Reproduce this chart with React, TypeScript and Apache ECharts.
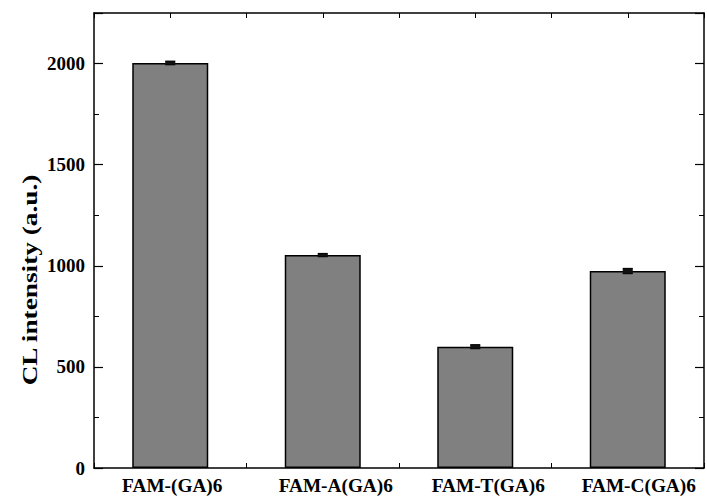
import React, { useEffect, useRef } from "react";
import * as echarts from "echarts";

const categories = ["FAM-(GA)6", "FAM-A(GA)6", "FAM-T(GA)6", "FAM-C(GA)6"];
const values = [2003, 1053, 600, 974];
const errors = [8, 7, 9, 12];
const yTitle = "CL intensity (a.u.)";

const FONT = "Liberation Serif";
const labelShift = [4, 26, 26, 22];

export default function App() {
  const ref = useRef<HTMLDivElement>(null);
  useEffect(() => {
    if (!ref.current) return;
    const chart = echarts.init(ref.current, undefined, { renderer: "svg" });
    const lineStyle = { color: "#000", width: 1.5 };
    const xCommon = {
      type: "value" as const,
      min: -0.5,
      max: 3.5,
      interval: 0.5,
      splitLine: { show: false },
      axisLine: { show: true, onZero: false, lineStyle },
      axisTick: { show: true, inside: true, length: 5, lineStyle: { color: "#000", width: 1 } },
    };
    const yCommon = {
      type: "value" as const,
      min: 0,
      max: 2250,
      interval: 500,
      splitLine: { show: false },
      axisLine: { show: true, onZero: false, lineStyle },
      axisTick: { show: true, inside: true, length: 9, lineStyle: { color: "#000", width: 1.2 } },
      minorTick: { show: true, splitNumber: 2, length: 5, lineStyle: { color: "#000", width: 1 } },
    };
    const rich: Record<string, any> = {};
    labelShift.forEach((p, i) => {
      rich["c" + i] = {
        fontFamily: FONT,
        fontWeight: "bold",
        fontSize: 19.3,
        color: "#000",
        padding: [0, 0, 0, p],
      };
    });
    chart.setOption({
      animation: false,
      backgroundColor: "#fff",
      grid: { left: 94, right: 1, top: 13, bottom: 33 },
      xAxis: [
        {
          ...xCommon,
          position: "bottom",
          axisLabel: {
            show: true,
            margin: 8,
            fontFamily: FONT,
            fontWeight: "bold",
            fontSize: 19.3,
            color: "#000",
            rich,
            formatter: (v: number) =>
              Number.isInteger(v) && v >= 0 && v < categories.length
                ? `{c${v}|${categories[v]}}`
                : "",
          },
        },
        {
          ...xCommon,
          position: "top",
          axisLabel: { show: false },
        },
      ],
      yAxis: [
        {
          ...yCommon,
          position: "left",
          axisLabel: {
            margin: 9,
            fontFamily: FONT,
            fontWeight: "bold",
            fontSize: 19,
            color: "#000",
            showMaxLabel: false,
            formatter: (v: number) => String(v),
          },
        },
        {
          ...yCommon,
          position: "right",
          axisLabel: { show: false },
        },
      ],
      graphic: [
        {
          type: "text",
          x: 30,
          y: 280,
          rotation: Math.PI / 2,
          scaleX: 1.3,
          style: {
            text: yTitle,
            font: `bold 21px ${FONT}`,
            fill: "#000",
            textAlign: "center",
            textVerticalAlign: "middle",
          },
        },
      ],
      series: [
        {
          type: "bar",
          xAxisIndex: 0,
          yAxisIndex: 0,
          barWidth: 76,
          data: values.map((v, i) => [i, v]),
          itemStyle: { color: "#808080", borderColor: "#000", borderWidth: 1.5 },
        },
        {
          type: "custom",
          xAxisIndex: 0,
          yAxisIndex: 0,
          data: values.map((v, i) => [i, v, errors[i]]),
          z: 10,
          renderItem: (params: any, api: any) => {
            const x = api.value(0);
            const v = api.value(1);
            const e = api.value(2);
            const top = api.coord([x, v + e]);
            const bot = api.coord([x, v - e]);
            const hw = 5;
            const style = { stroke: "#000", lineWidth: 1.5 };
            return {
              type: "group",
              children: [
                { type: "line", shape: { x1: top[0], y1: top[1], x2: bot[0], y2: bot[1] }, style },
                { type: "line", shape: { x1: top[0] - hw, y1: top[1], x2: top[0] + hw, y2: top[1] }, style },
                { type: "line", shape: { x1: bot[0] - hw, y1: bot[1], x2: bot[0] + hw, y2: bot[1] }, style },
                {
                  type: "rect",
                  shape: { x: top[0] - hw, y: top[1], width: hw * 2, height: bot[1] - top[1] },
                  style: { fill: "#111" },
                },
              ],
            };
          },
        },
      ],
    });
    return () => chart.dispose();
  }, []);
  return (
    <div
      ref={ref}
      style={{ position: "fixed", left: 0, top: 0, width: 707, height: 501, background: "#fff" }}
    />
  );
}
